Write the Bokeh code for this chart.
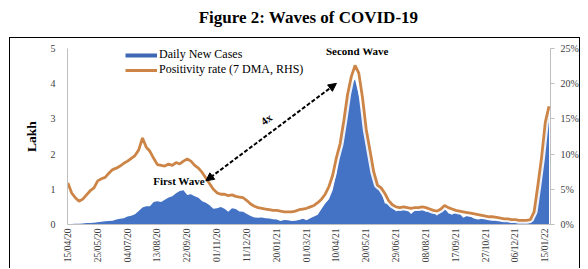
import math
import pandas as pd
from bokeh.plotting import figure
from bokeh.layouts import column
from bokeh.models import (Range1d, LinearAxis, FixedTicker, Legend, LegendItem, Label,
                          Arrow, NormalHead, ColumnDataSource,
                          DatetimeTickFormatter, PrintfTickFormatter)
from bokeh.embed import file_html
from bokeh.resources import INLINE

# ---------------- data (5-day samples) ----------------
start_date = "2020-04-15"
step_days = 5

daily_cases_lakh = [
    0.01, 0.015, 0.02, 0.02, 0.03, 0.04, 0.04, 0.05, 0.065, 0.08,
    0.09, 0.10, 0.11, 0.14, 0.16, 0.18, 0.23, 0.25, 0.29, 0.38,
    0.48, 0.52, 0.52, 0.64, 0.66, 0.64, 0.70, 0.77, 0.80, 0.89,
    0.95, 0.97, 0.84, 0.86, 0.80, 0.76, 0.66, 0.62, 0.55, 0.45,
    0.46, 0.50, 0.45, 0.36, 0.46, 0.44, 0.37, 0.36, 0.30, 0.24,
    0.20, 0.19, 0.20, 0.18, 0.17, 0.15, 0.14, 0.10, 0.13, 0.12,
    0.10, 0.11, 0.13, 0.16, 0.12, 0.18, 0.23, 0.28, 0.44, 0.60,
    0.72, 0.97, 1.45, 2.17, 2.95, 3.53, 4.02, 4.12, 3.67, 3.12,
    2.67, 1.97, 1.52, 1.32, 0.94, 0.60, 0.60, 0.51, 0.37, 0.43,
    0.43, 0.41, 0.30, 0.39, 0.44, 0.42, 0.36, 0.40, 0.36, 0.25,
    0.46, 0.47, 0.32, 0.28, 0.35, 0.31, 0.19, 0.24, 0.22, 0.16,
    0.14, 0.16, 0.16, 0.12, 0.11, 0.13, 0.09, 0.11, 0.10, 0.09,
    0.07, 0.08, 0.07, 0.06, 0.07, 0.22, 0.91, 1.80, 2.68, 3.35,
]

positivity_pct = [
    5.9, 4.5, 3.8, 3.3, 3.6, 4.2, 4.8, 5.2, 6.2, 6.5,
    6.7, 7.3, 7.8, 8.0, 8.3, 8.7, 9.0, 9.4, 9.8, 10.6,
    12.3, 11.0, 10.4, 9.4, 8.5, 8.4, 8.3, 8.6, 8.4, 8.8,
    8.6, 9.0, 9.3, 9.0, 8.4, 8.0, 7.4, 6.6, 5.8, 5.0,
    4.5, 4.3, 4.3, 4.1, 4.2, 4.0, 3.9, 3.8, 3.4, 2.9,
    2.6, 2.4, 2.3, 2.2, 2.1, 2.0, 2.0, 1.9, 1.8, 1.8,
    1.8, 1.9, 2.1, 2.2, 2.3, 2.5, 2.7, 3.1, 3.6, 4.3,
    5.4, 7.0, 9.5, 11.5, 14.8, 18.5, 21.0, 22.6, 21.5, 18.0,
    13.5, 10.5, 7.5, 5.6, 5.2, 4.4, 3.4, 2.8, 2.5, 2.4,
    2.5, 2.4, 2.3, 2.4, 2.4, 2.5, 2.4, 2.2, 2.0, 1.9,
    2.2, 2.7, 2.4, 2.2, 2.0, 1.9, 1.8, 1.7, 1.6, 1.5,
    1.4, 1.3, 1.2, 1.1, 1.1, 1.0, 0.9, 0.8, 0.8, 0.7,
    0.7, 0.6, 0.6, 0.6, 0.7, 1.8, 5.5, 9.5, 14.5, 16.8,
]

x_tick_labels = ["15/04/20", "25/05/20", "04/07/20", "13/08/20", "22/09/20",
                 "01/11/20", "11/12/20", "20/01/21", "01/03/21", "10/04/21",
                 "20/05/21", "29/06/21", "08/08/21", "17/09/21", "27/10/21",
                 "06/12/21", "15/01/22"]
left_ticks = [0, 1, 2, 3, 4, 5]
right_ticks = [0, 5, 10, 15, 20, 25]

title_text = "Figure 2: Waves of COVID-19"
series_names = ["Daily New Cases", "Positivity rate (7 DMA, RHS)"]

# ---------------- styling ----------------
BLUE = "#4472C4"
ORANGE = "#CC8547"
SERIF = "Liberation Serif"
AXIS_GREY = "#BFBFBF"


def ms(s):
    return pd.Timestamp(s).value / 1e6


dates = pd.date_range(start_date, periods=len(daily_cases_lakh), freq=f"{step_days}D")
src = ColumnDataSource(dict(date=dates, cases=daily_cases_lakh, pct=positivity_pct))
# one-row source: a line through a single point draws nothing, used as legend swatch
src_legend = ColumnDataSource(dict(date=dates[:1], cases=daily_cases_lakh[:1],
                                   pct=positivity_pct[:1]))

# ---------------- title strip ----------------
tfig = figure(width=588, height=37, x_range=Range1d(0, 1), y_range=Range1d(0, 1),
              output_backend="svg", toolbar_location=None, min_border=0)
tfig.axis.visible = False
tfig.grid.visible = False
tfig.outline_line_color = None
tfig.add_layout(Label(x=0.502, y=0.53, text=title_text, text_align="center",
                      text_baseline="middle", text_font=SERIF, text_font_size="17px",
                      text_font_style="bold", text_color="black"))

# ---------------- main chart (framed box) ----------------
p = figure(width=571, height=231, x_axis_type="datetime",
           x_range=Range1d(ms("2020-04-14 12:00"), ms("2022-01-22")),
           y_range=Range1d(0, 5), output_backend="svg", toolbar_location=None,
           min_border_left=57, min_border_right=28, min_border_top=10, min_border_bottom=45)
p.margin = (0, 0, 0, 9)
p.styles = {"border-top": "1px solid black", "border-left": "1px solid black",
            "border-right": "1px solid black"}
p.extra_y_ranges = {"pct": Range1d(0, 25)}

p.xgrid.visible = False
p.ygrid.visible = False
p.outline_line_color = None
p.background_fill_color = "white"
p.border_fill_color = "white"

# marks
p.varea(x="date", y1=0, y2="cases", source=src, fill_color=BLUE)
p.line(x="date", y="pct", source=src, y_range_name="pct", line_color="white",
       line_width=7, line_alpha=0.9)
p.line(x="date", y="pct", source=src, y_range_name="pct", line_color=ORANGE,
       line_width=2.8)

# axes
xax = p.xaxis[0]
xax.ticker = FixedTicker(ticks=[pd.to_datetime(t, format="%d/%m/%y").value / 1e6
                                for t in x_tick_labels])
xax.formatter = DatetimeTickFormatter(days="%d/%m/%y", months="%d/%m/%y",
                                      years="%d/%m/%y", hours="%d/%m/%y")
xax.major_label_orientation = math.pi / 2
xax.major_label_text_font_size = "9.5px"
xax.major_label_standoff = 4

yax = p.yaxis[0]
yax.ticker = FixedTicker(ticks=left_ticks)
yax.axis_label = "Lakh"
yax.axis_label_text_font = SERIF
yax.axis_label_text_font_style = "bold"
yax.axis_label_text_font_size = "13.5px"
yax.axis_label_text_color = "black"
yax.axis_label_standoff = 9
yax.major_label_standoff = 12

rax = LinearAxis(y_range_name="pct", ticker=FixedTicker(ticks=right_ticks),
                 formatter=PrintfTickFormatter(format="%d%%"))
p.add_layout(rax, "right")
rax.major_label_standoff = 6

for ax in (xax, yax, rax):
    ax.axis_line_color = AXIS_GREY
    ax.major_tick_line_color = AXIS_GREY
    ax.minor_tick_line_color = None
    ax.major_tick_in = 0
    ax.major_tick_out = 0
    ax.major_label_text_font = SERIF
    ax.major_label_text_color = "#404040"
    if ax is not xax:
        ax.major_label_text_font_size = "10px"
rax.major_tick_out = 4

# legend (swatch renderers use a single point, so they draw nothing in the plot)
leg_blue = p.line(x="date", y="cases", source=src_legend, line_color="#3E68B4",
                  line_width=4)
leg_orange = p.line(x="date", y="pct", source=src_legend, y_range_name="pct",
                    line_color=ORANGE, line_width=3)
legend = Legend(items=[LegendItem(label=series_names[0], renderers=[leg_blue]),
                       LegendItem(label=series_names[1], renderers=[leg_orange])],
                location=(58, 147), glyph_width=32, glyph_height=14, label_height=14,
                label_standoff=2, padding=1, spacing=0, margin=0,
                border_line_color=None, background_fill_alpha=0,
                label_text_font=SERIF, label_text_font_size="12px",
                label_text_color="black")
p.add_layout(legend)

# annotations
p.add_layout(Arrow(start=NormalHead(size=8, fill_color="black", line_color="black"),
                   end=NormalHead(size=8, fill_color="black", line_color="black"),
                   x_start=ms("2020-10-17"), y_start=1.24,
                   x_end=ms("2021-04-10"), y_end=4.01,
                   line_color="black", line_width=2, line_dash="4 2"))

for txt, d, yv, ang in [("Second Wave", "2021-05-08", 4.92, 0.0),
                        ("First Wave", "2020-09-11", 1.24, 0.0),
                        ("4x", "2021-01-06", 2.99, math.radians(36.6))]:
    p.add_layout(Label(x=ms(d), y=yv, text=txt, angle=ang,
                       text_align="center", text_baseline="middle",
                       text_font=SERIF, text_font_style="bold",
                       text_font_size="11px", text_color="black"))

layout = column(tfig, p, spacing=0)
open("out.html", "w").write(file_html(layout, INLINE))
